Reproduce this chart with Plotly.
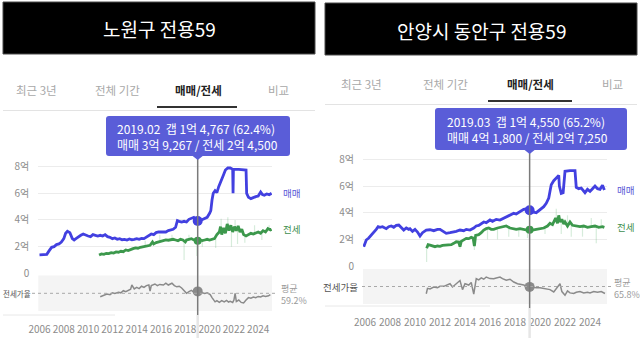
import plotly.graph_objects as go

W, H = 640, 338


def fx(px):
    return px / W


def fy(py):
    return 1 - py / H


# ---------------- data ----------------
year_ticks = [2006, 2008, 2010, 2012, 2014, 2016, 2018, 2020, 2022, 2024]
price_ticks = [0, 2, 4, 6, 8]
price_tick_text = ["0", "2억", "4억", "6억", "8억"]

tabs = ["최근 3년", "전체 기간", "매매/전세", "비교"]

# 노원구 전용59 : 매매 (억)
nowon_sale_t = [2006.0, 2006.3, 2006.6, 2006.8, 2007.0, 2007.2, 2007.4, 2007.6, 2007.8, 2008.0,
                2008.15, 2008.3, 2008.5, 2008.7, 2008.85, 2009.0, 2009.2, 2009.4, 2009.6, 2009.8,
                2010.0, 2010.2, 2010.4, 2010.6, 2010.8, 2011.0, 2011.2, 2011.4, 2011.6, 2011.8,
                2012.0, 2012.2, 2012.4, 2012.6, 2012.8, 2013.0, 2013.2, 2013.4, 2013.6, 2013.8,
                2014.0, 2014.2, 2014.4, 2014.6, 2014.8, 2015.0, 2015.2, 2015.4, 2015.6, 2015.8,
                2016.0, 2016.2, 2016.4, 2016.6, 2016.8, 2017.0, 2017.2, 2017.35, 2017.5, 2017.7,
                2017.9, 2018.1, 2018.3, 2018.5, 2018.7, 2018.9, 2019.02, 2019.2, 2019.4, 2019.6,
                2019.8, 2020.0, 2020.1, 2020.2, 2020.3, 2020.45, 2020.6, 2020.75, 2020.9, 2021.0,
                2021.15, 2021.3, 2021.5, 2021.7, 2021.9, 2021.93, 2021.96, 2022.4, 2022.8, 2023.0,
                2023.05, 2023.2, 2023.4, 2023.6, 2023.8, 2024.0, 2024.2, 2024.35, 2024.5, 2024.7,
                2024.9, 2025.1]
nowon_sale = [1.38, 1.40, 1.42, 1.70, 1.95, 2.00, 2.15, 2.20, 2.35, 2.60,
              3.00, 3.15, 3.05, 2.60, 2.50, 2.60, 2.75, 2.85, 2.95, 2.85,
              2.80, 2.75, 2.90, 2.85, 2.80, 2.85, 2.80, 2.90, 2.75, 2.70,
              2.60, 2.65, 2.55, 2.60, 2.52, 2.55, 2.50, 2.58, 2.52, 2.55,
              2.60, 2.55, 2.62, 2.60, 2.70, 2.80, 2.95, 2.90, 3.05, 3.10,
              3.10, 3.15, 3.10, 3.20, 3.25, 3.30, 3.45, 3.95, 3.90, 3.85,
              3.90, 3.85, 4.05, 4.15, 4.20, 4.00, 3.9267, 3.95, 4.05, 4.10,
              4.20, 4.50, 4.70, 5.50, 6.00, 6.20, 6.05, 6.50, 6.80, 7.10,
              7.40, 7.75, 7.90, 7.90, 7.80, 6.00, 7.80, 7.80, 7.80, 7.75,
              6.00, 5.70, 5.60, 5.70, 5.75, 5.80, 6.10, 5.90, 5.85, 5.95,
              5.90, 6.00]

# 노원구 전용59 : 전세 (억)
nowon_jeonse_t = [2010.9, 2011.1, 2011.3, 2011.5, 2011.7, 2011.9, 2012.1, 2012.3, 2012.5, 2012.7,
                  2012.9, 2013.1, 2013.3, 2013.5, 2013.7, 2013.9, 2014.1, 2014.3, 2014.5, 2014.7,
                  2014.9, 2015.1, 2015.3, 2015.4, 2015.6, 2015.8, 2016.0, 2016.2, 2016.4, 2016.6,
                  2016.8, 2017.0, 2017.2, 2017.4, 2017.6, 2017.8, 2018.0, 2018.1, 2018.3, 2018.5,
                  2018.7, 2018.9, 2019.02, 2019.2, 2019.4, 2019.6, 2019.8, 2020.0, 2020.2, 2020.4,
                  2020.6, 2020.8, 2020.9, 2021.0, 2021.15, 2021.3, 2021.45, 2021.6, 2021.75, 2021.9,
                  2022.05, 2022.2, 2022.35, 2022.5, 2022.65, 2022.8, 2023.0, 2023.2, 2023.4, 2023.6,
                  2023.8, 2024.0, 2024.2, 2024.4, 2024.6, 2024.8, 2025.0, 2025.1]
nowon_jeonse = [1.37, 1.45, 1.42, 1.50, 1.48, 1.55, 1.52, 1.60, 1.58, 1.65,
                1.62, 1.75, 1.70, 1.80, 1.85, 1.90, 1.88, 1.95, 2.00, 2.05,
                2.10, 2.10, 2.35, 2.20, 2.30, 2.35, 2.40, 2.45, 2.50, 2.48,
                2.50, 2.55, 2.50, 2.45, 2.55, 2.50, 2.35, 2.50, 2.55, 2.60,
                2.50, 2.45, 2.45, 2.50, 2.45, 2.50, 2.55, 2.50, 2.55, 2.60,
                2.90, 3.10, 3.50, 2.90, 3.40, 3.00, 3.70, 3.20, 3.60, 3.10,
                3.50, 3.20, 3.55, 3.10, 3.30, 2.90, 2.80, 2.90, 3.00, 2.95,
                3.05, 3.10, 3.00, 3.20, 3.10, 3.35, 3.25, 3.30]

# 노원구 전용59 : 개별 전세 거래 (연도, 평균선 값, 거래 값)
nowon_trade_t = [2014.7, 2015.9, 2016.9, 2017.9, 2018.3, 2018.95, 2019.4, 2020.5, 2020.95,
                 2021.5, 2021.8, 2022.1, 2022.3, 2022.9, 2023.7, 2024.3, 2024.9]
nowon_trade_base = [2.05, 2.35, 2.50, 2.50, 2.55, 2.45, 2.45, 2.75, 3.30,
                    3.50, 3.40, 3.45, 3.40, 2.85, 3.00, 3.05, 3.30]
nowon_trade_tip = [2.45, 2.90, 2.90, 1.00, 2.90, 1.30, 2.00, 1.90, 4.10,
                   4.20, 2.00, 4.00, 2.20, 2.30, 3.60, 2.50, 3.60]

# 노원구 전용59 : 전세가율 (%)
nowon_ratio_t = [2011.0, 2011.3, 2011.55, 2011.8, 2012.0, 2012.2, 2012.5, 2012.7, 2012.9, 2013.1,
                 2013.3, 2013.5, 2013.6, 2013.8, 2014.0, 2014.2, 2014.4, 2014.6, 2014.8, 2015.0,
                 2015.1, 2015.2, 2015.5, 2015.7, 2015.9, 2016.2, 2016.4, 2016.6, 2016.9, 2017.1,
                 2017.3, 2017.5, 2017.7, 2017.9, 2018.1, 2018.3, 2018.5, 2018.7, 2018.9, 2019.02,
                 2019.2, 2019.4, 2019.6, 2019.8, 2020.05, 2020.2, 2020.45, 2020.6, 2020.8, 2021.0,
                 2021.2, 2021.4, 2021.55, 2021.7, 2021.9, 2022.0, 2022.1, 2022.2, 2022.4, 2022.6,
                 2022.8, 2023.0, 2023.2, 2023.4, 2023.6, 2023.8, 2024.0, 2024.2, 2024.4, 2024.6,
                 2024.85, 2025.0]
nowon_ratio = [53.5, 56, 58, 57, 60, 59, 61, 60, 63.5, 62,
               64, 66, 73, 66.5, 69, 67, 71, 69, 72, 73,
               63, 72, 74.7, 72, 74, 73, 76, 73, 76, 72,
               70, 71, 68, 64, 59.2, 62, 64, 61, 63, 62.4,
               61, 60, 59, 60, 57, 52, 45, 47, 44, 47,
               45, 47.5, 44.7, 46, 44, 48, 59, 45.5, 48, 44,
               43, 48, 52, 51, 53, 52, 54, 53, 55, 54,
               55, 57]
nowon_ratio_avg = 59.2

# 노원구 : 선택 시점
nowon_cursor_label = "2019.02"
nowon_cursor_t = 2019.02
nowon_cursor_sale = 39267      # 만원
nowon_cursor_jeonse = 24500    # 만원

# 안양시 동안구 전용59 : 매매 (억)
anyang_sale_t = [2005.9, 2006.1, 2006.3, 2006.5, 2006.7, 2006.9, 2007.05, 2007.2, 2007.4, 2007.55,
                 2007.7, 2007.9, 2008.1, 2008.3, 2008.5, 2008.7, 2008.9, 2009.1, 2009.3, 2009.5,
                 2009.6, 2009.8, 2010.0, 2010.2, 2010.4, 2010.6, 2010.9, 2011.2, 2011.5, 2011.8,
                 2012.0, 2012.3, 2012.5, 2012.8, 2013.1, 2013.3, 2013.6, 2013.9, 2014.1, 2014.4,
                 2014.7, 2014.9, 2015.1, 2015.3, 2015.5, 2015.7, 2016.0, 2016.2, 2016.5, 2016.8,
                 2017.0, 2017.3, 2017.6, 2017.9, 2018.1, 2018.4, 2018.7, 2018.95, 2019.17, 2019.4,
                 2019.7, 2019.9, 2020.1, 2020.3, 2020.5, 2020.7, 2020.8, 2020.9, 2021.1, 2021.3,
                 2021.5, 2021.55, 2021.7, 2021.85, 2021.95, 2022.0, 2022.4, 2022.8, 2022.9, 2023.1,
                 2023.3, 2023.6, 2023.8, 2024.0, 2024.2, 2024.4, 2024.6, 2024.8, 2025.0, 2025.15]
anyang_sale = [1.45, 1.95, 2.10, 2.30, 2.55, 2.75, 2.95, 2.90, 2.95, 2.85,
               2.80, 2.95, 3.00, 2.90, 3.05, 3.07, 2.90, 2.70, 2.85, 2.75,
               2.80, 2.60, 2.75, 2.55, 2.25, 2.50, 2.70, 2.72, 2.65, 2.75,
               2.75, 2.60, 2.45, 2.50, 2.55, 2.60, 2.70, 2.65, 2.75, 2.70,
               2.85, 3.00, 3.05, 3.20, 3.30, 3.25, 3.45, 3.35, 3.50, 3.45,
               3.55, 3.70, 3.80, 3.95, 3.90, 4.05, 4.25, 4.30, 4.18, 4.05,
               4.00, 4.15, 4.30, 4.45, 4.70, 5.10, 5.60, 6.10, 6.40, 6.60,
               6.80, 6.00, 5.45, 5.50, 6.90, 7.10, 7.15, 7.15, 5.90, 5.80,
               5.85, 5.50, 5.75, 5.60, 5.80, 6.00, 5.80, 5.75, 6.05, 5.70]

# 안양시 동안구 전용59 : 전세 (억)
anyang_jeonse_t = [2010.93, 2011.05, 2011.2, 2011.4, 2011.6, 2011.8, 2012.0, 2012.2, 2012.5, 2012.7,
                   2012.9, 2013.1, 2013.3, 2013.5, 2013.6, 2013.7, 2013.9, 2014.1, 2014.3, 2014.5,
                   2014.65, 2014.75, 2014.85, 2015.1, 2015.3, 2015.5, 2015.7, 2015.9, 2016.1, 2016.3,
                   2016.6, 2016.9, 2017.1, 2017.3, 2017.6, 2017.9, 2018.1, 2018.4, 2018.7, 2018.95,
                   2019.17, 2019.4, 2019.7, 2020.0, 2020.3, 2020.6, 2020.8, 2021.0, 2021.1, 2021.25,
                   2021.4, 2021.5, 2021.6, 2021.75, 2021.9, 2022.0, 2022.2, 2022.4, 2022.6, 2022.9,
                   2023.2, 2023.5, 2023.8, 2024.1, 2024.4, 2024.7, 2025.0, 2025.15]
anyang_jeonse = [1.33, 1.60, 1.57, 1.50, 1.45, 1.50, 1.48, 1.55, 1.57, 1.62,
                 1.60, 1.70, 1.82, 1.80, 1.45, 1.85, 1.95, 2.07, 2.05, 2.15,
                 2.10, 1.50, 2.30, 2.35, 2.50, 2.70, 2.80, 2.85, 2.75, 2.75,
                 2.85, 2.90, 2.95, 3.00, 2.85, 2.80, 2.75, 2.80, 2.75, 2.70,
                 2.725, 2.70, 2.75, 2.80, 2.85, 3.00, 3.20, 3.10, 3.30, 3.60,
                 3.20, 3.80, 3.30, 3.50, 3.15, 3.30, 3.00, 3.30, 3.05, 3.00,
                 2.95, 3.00, 2.90, 2.95, 3.00, 2.90, 2.95, 2.90]

# 안양시 동안구 전용59 : 개별 전세 거래 (연도, 평균선 값, 거래 값)
anyang_trade_t = [2010.93, 2013.6, 2014.75, 2015.8, 2016.6, 2017.5, 2018.3, 2019.0, 2020.4,
                  2021.3, 2021.7, 2022.2, 2022.5, 2023.4, 2024.1, 2024.5, 2024.9]
anyang_trade_base = [1.33, 1.80, 2.10, 2.80, 2.85, 2.90, 2.80, 2.70, 2.90,
                     3.40, 3.40, 3.00, 3.20, 3.00, 2.95, 3.00, 2.95]
anyang_trade_tip = [0.30, 1.30, 1.20, 2.00, 2.00, 2.20, 2.20, 2.10, 2.40,
                    4.30, 2.40, 3.80, 2.20, 2.20, 3.60, 1.70, 3.50]

# 안양시 동안구 전용59 : 전세가율 (%)
anyang_ratio_t = [2010.9, 2011.0, 2011.2, 2011.5, 2011.8, 2012.0, 2012.3, 2012.5, 2012.8, 2013.0,
                  2013.3, 2013.6, 2013.8, 2014.0, 2014.3, 2014.5, 2014.7, 2014.9, 2015.1, 2015.3,
                  2015.5, 2015.7, 2016.0, 2016.3, 2016.5, 2016.8, 2017.0, 2017.3, 2017.6, 2017.9,
                  2018.2, 2018.5, 2018.7, 2018.95, 2019.17, 2019.4, 2019.7, 2020.0, 2020.2, 2020.5,
                  2020.8, 2021.1, 2021.3, 2021.5, 2021.6, 2021.75, 2022.0, 2022.2, 2022.4, 2022.7,
                  2022.9, 2023.2, 2023.5, 2023.8, 2024.0, 2024.3, 2024.6, 2024.9, 2025.2]
anyang_ratio = [54.7, 63, 62, 65, 64, 66, 66, 68, 70, 65,
                70, 75, 61, 70, 68, 72, 54, 77.8, 76, 79,
                77, 80.4, 78, 77.8, 79, 80.4, 78, 75.5, 77, 72.7,
                70, 69, 68, 66, 65.2, 65, 64, 64, 63, 62.5,
                61, 57.4, 63, 67, 70, 58, 52.3, 59, 56, 55,
                57, 58, 56, 57, 56, 58, 57, 58, 55]
anyang_ratio_avg = 65.8

# 안양시 동안구 : 선택 시점
anyang_cursor_label = "2019.03"
anyang_cursor_t = 2019.17
anyang_cursor_sale = 41800     # 만원
anyang_cursor_jeonse = 27250   # 만원

# ---------------- styles ----------------
FONT = "Noto Sans CJK KR"
BLUE = "#4240e0"
GREEN = "#3c984c"
GREY = "#8a8a8a"
TIP_BG = "#5a5dd8"


def won(manwon):
    """Format an amount in 만원 as 'N억 M,MMM'."""
    eok, rest = divmod(int(round(manwon)), 10000)
    parts = []
    if eok:
        parts.append(f"{eok}억")
    if rest:
        parts.append(f"{rest:,}")
    return " ".join(parts)


fig = go.Figure()
shapes = []
annotations = []

panels = [
    dict(title="노원구 전용59", box=(3, 2, 315, 54), title_y=29,
         tab_y=90, tab_x=[36, 117, 198, 278], ul=(157, 237, 107), sep=(3, 315, 110.5),
         x0=38.3, x1=272, yr_px=39.5, px_yr=12.15, top=154, zero=273.3, per=13.33,
         r_top=275.5, r_bot=311, r_avg_px=293.3, r_ppp=0.6,
         tip=(106, 116, 290, 156), tip_tx=115,
         ratio_lbl=(1, "left", 7.5), side_x=281, avg_x=279, dot_x=(32, 277), foot=(3, 115, 315),
         sale_t=nowon_sale_t, sale=nowon_sale, js_t=nowon_jeonse_t, js=nowon_jeonse,
         tr_t=nowon_trade_t, tr_b=nowon_trade_base, tr_v=nowon_trade_tip,
         r_t=nowon_ratio_t, r=nowon_ratio, avg=nowon_ratio_avg,
         c_lbl=nowon_cursor_label, c_t=nowon_cursor_t,
         c_sale=nowon_cursor_sale, c_js=nowon_cursor_jeonse),
    dict(title="안양시 동안구 전용59", box=(325, 3, 637, 55), title_y=30,
         tab_y=83.5, tab_x=[361, 445, 530, 612], ul=(488, 572, 101), sep=(325, 637, 104.5),
         x0=363, x1=607, yr_px=365, px_yr=12.5, top=151, zero=266, per=13.33,
         r_top=269, r_bot=304, r_avg_px=286.5, r_ppp=0.65,
         tip=(435, 108, 627, 150), tip_tx=445,
         ratio_lbl=(360, "right", 9.5), side_x=615, avg_x=612, dot_x=(362, 611),
         foot=(325, 490, 306),
         sale_t=anyang_sale_t, sale=anyang_sale, js_t=anyang_jeonse_t, js=anyang_jeonse,
         tr_t=anyang_trade_t, tr_b=anyang_trade_base, tr_v=anyang_trade_tip,
         r_t=anyang_ratio_t, r=anyang_ratio, avg=anyang_ratio_avg,
         c_lbl=anyang_cursor_label, c_t=anyang_cursor_t,
         c_sale=anyang_cursor_sale, c_js=anyang_cursor_jeonse),
]

layout_axes = {}

for i, p in enumerate(panels):
    mx = "x" if i == 0 else "x3"
    my = "y" if i == 0 else "y3"
    rx = "x2" if i == 0 else "x4"
    ry = "y2" if i == 0 else "y4"
    mxk = "xaxis" if i == 0 else "xaxis3"
    myk = "yaxis" if i == 0 else "yaxis3"
    rxk = "xaxis2" if i == 0 else "xaxis4"
    ryk = "yaxis2" if i == 0 else "yaxis4"

    yr_lo = 2006 + (p["x0"] - p["yr_px"]) / p["px_yr"]
    yr_hi = 2006 + (p["x1"] - p["yr_px"]) / p["px_yr"]
    y_hi = (p["zero"] - p["top"]) / p["per"]
    r_hi = p["avg"] + (p["r_avg_px"] - p["r_top"]) / p["r_ppp"]
    r_lo = p["avg"] - (p["r_bot"] - p["r_avg_px"]) / p["r_ppp"]

    xdom = [fx(p["x0"]), fx(p["x1"])]
    layout_axes[mxk] = dict(domain=xdom, range=[yr_lo, yr_hi], anchor=my, visible=False,
                            automargin=False)
    layout_axes[myk] = dict(domain=[fy(p["zero"]), fy(p["top"])], range=[0, y_hi], anchor=mx,
                            tickvals=price_ticks, ticktext=price_tick_text,
                            showgrid=True, gridcolor="#ececec", gridwidth=1,
                            zeroline=False, showline=False, automargin=False,
                            ticks="outside", ticklen=6, tickcolor="rgba(0,0,0,0)",
                            tickfont=dict(family=FONT, size=10, color="#8c8c8c"))
    layout_axes[rxk] = dict(domain=xdom, range=[yr_lo, yr_hi], anchor=ry,
                            tickvals=year_ticks, ticktext=[str(v) for v in year_ticks],
                            showgrid=False, zeroline=False, showline=False,
                            automargin=False, tickangle=0,
                            ticks="outside", ticklen=9, tickcolor="rgba(0,0,0,0)",
                            tickfont=dict(family=FONT, size=10, color="#8c8c8c"))
    layout_axes[ryk] = dict(domain=[fy(p["r_bot"]), fy(p["r_top"])], range=[r_lo, r_hi],
                            anchor=rx, visible=False, automargin=False)

    # title box
    bx0, by0, bx1, by1 = p["box"]
    shapes.append(dict(type="rect", xref="paper", yref="paper",
                       x0=fx(bx0), x1=fx(bx1), y0=fy(by1), y1=fy(by0),
                       fillcolor="#000000", line=dict(color="#4a4a4a", width=1)))
    annotations.append(dict(text=p["title"], xref="paper", yref="paper",
                            x=fx((bx0 + bx1) / 2), y=fy(p["title_y"]), showarrow=False,
                            xanchor="center", yanchor="middle",
                            font=dict(family=FONT, size=19, color="#ffffff")))

    # tabs
    for tab, tx in zip(tabs, p["tab_x"]):
        sel = tab == "매매/전세"
        annotations.append(dict(text=f"<b>{tab}</b>" if sel else tab, xref="paper", yref="paper",
                                x=fx(tx), y=fy(p["tab_y"]), showarrow=False,
                                xanchor="center", yanchor="middle",
                                font=dict(family=FONT, size=11.5,
                                          color="#222222" if sel else "#a8a8a8")))
    sx0, sx1, sy = p["sep"]
    shapes.append(dict(type="line", xref="paper", yref="paper", x0=fx(sx0), x1=fx(sx1),
                       y0=fy(sy), y1=fy(sy), line=dict(color="#e3e3e3", width=1)))
    ux0, ux1, uy = p["ul"]
    shapes.append(dict(type="line", xref="paper", yref="paper", x0=fx(ux0), x1=fx(ux1),
                       y0=fy(uy), y1=fy(uy), line=dict(color="#333333", width=2)))

    # ratio band background
    shapes.append(dict(type="rect", xref=f"{rx} domain", yref=f"{ry} domain",
                       x0=0, x1=1, y0=0, y1=1, fillcolor="#f4f4f4",
                       line=dict(width=0), layer="below"))
    # average dotted line
    shapes.append(dict(type="line", xref="paper", yref=ry,
                       x0=fx(p["dot_x"][0]), x1=fx(p["dot_x"][1]), y0=p["avg"], y1=p["avg"],
                       line=dict(color="#a8a8a8", width=1, dash="dot")))
    # faint footer rule
    fx0, fx1, fyy = p["foot"]
    shapes.append(dict(type="line", xref="paper", yref="paper", x0=fx(fx0), x1=fx(fx1),
                       y0=fy(fyy), y1=fy(fyy), line=dict(color="#e8e8e8", width=1)))

    # cursor line
    tx0, ty0, tx1, ty1 = p["tip"]
    shapes.append(dict(type="line", xref=mx, yref="paper", x0=p["c_t"], x1=p["c_t"],
                       y0=fy(p["r_bot"] + 4), y1=fy(ty1), line=dict(color="#7a7a7a", width=1.5)))
    shapes.append(dict(type="line", xref=mx, yref="paper", x0=p["c_t"], x1=p["c_t"],
                       y0=0, y1=fy(p["r_bot"] + 4), line=dict(color="#e6e6e6", width=2.5)))

    # tooltip box with small pointer
    cxp = p["x0"] + (p["c_t"] - yr_lo) * p["px_yr"]
    r = 3
    path = (f"M {fx(tx0 + r)} {fy(ty0)} L {fx(tx1 - r)} {fy(ty0)} "
            f"Q {fx(tx1)} {fy(ty0)} {fx(tx1)} {fy(ty0 + r)} "
            f"L {fx(tx1)} {fy(ty1 - r)} Q {fx(tx1)} {fy(ty1)} {fx(tx1 - r)} {fy(ty1)} "
            f"L {fx(cxp + 5)} {fy(ty1)} L {fx(cxp)} {fy(ty1 + 4)} L {fx(cxp - 5)} {fy(ty1)} "
            f"L {fx(tx0 + r)} {fy(ty1)} Q {fx(tx0)} {fy(ty1)} {fx(tx0)} {fy(ty1 - r)} "
            f"L {fx(tx0)} {fy(ty0 + r)} Q {fx(tx0)} {fy(ty0)} {fx(tx0 + r)} {fy(ty0)} Z")
    shapes.append(dict(type="path", xref="paper", yref="paper", path=path,
                       fillcolor=TIP_BG, line=dict(width=0)))
    gap = p["c_sale"] - p["c_js"]
    pct = p["c_js"] / p["c_sale"] * 100
    line1 = f"{p['c_lbl']}\u00a0\u00a0갭 {won(gap)} ({pct:.1f}%)"
    line2 = f"매매 {won(p['c_sale'])} / 전세 {won(p['c_js'])}"
    annotations.append(dict(text=f"{line1}<br>{line2}", xref="paper", yref="paper",
                            x=fx(p["tip_tx"]), y=fy((ty0 + ty1) / 2), showarrow=False,
                            xanchor="left", yanchor="middle", align="left",
                            font=dict(family=FONT, size=12, color="#ffffff")))

    # individual jeonse trades (faint)
    tx, ty = [], []
    for t, b, v in zip(p["tr_t"], p["tr_b"], p["tr_v"]):
        tx += [t, t, None]
        ty += [b, v, None]
    fig.add_trace(go.Scatter(x=tx, y=ty, xaxis=mx, yaxis=my, mode="lines",
                             line=dict(color="rgba(70,170,90,0.22)", width=1.2),
                             hoverinfo="skip"))
    # jeonse and sale lines
    fig.add_trace(go.Scatter(x=p["js_t"], y=p["js"], xaxis=mx, yaxis=my, mode="lines",
                             line=dict(color=GREEN, width=2.8), hoverinfo="skip"))
    fig.add_trace(go.Scatter(x=p["sale_t"], y=p["sale"], xaxis=mx, yaxis=my, mode="lines",
                             line=dict(color=BLUE, width=2.8), hoverinfo="skip"))
    # cursor dots
    fig.add_trace(go.Scatter(x=[p["c_t"]], y=[p["c_js"] / 10000], xaxis=mx, yaxis=my,
                             mode="markers", marker=dict(color=GREEN, size=8),
                             hoverinfo="skip"))
    fig.add_trace(go.Scatter(x=[p["c_t"]], y=[p["c_sale"] / 10000], xaxis=mx, yaxis=my,
                             mode="markers", marker=dict(color=BLUE, size=10),
                             hoverinfo="skip"))
    # ratio line and dot
    fig.add_trace(go.Scatter(x=p["r_t"], y=p["r"], xaxis=rx, yaxis=ry, mode="lines",
                             line=dict(color=GREY, width=1.5), hoverinfo="skip"))
    fig.add_trace(go.Scatter(x=[p["c_t"]], y=[pct], xaxis=rx, yaxis=ry, mode="markers",
                             marker=dict(color="#8a8a8a", size=10), hoverinfo="skip"))

    # series end labels
    annotations.append(dict(text="매매", xref="paper", yref=my, x=fx(p["side_x"]),
                            y=p["sale"][-1], showarrow=False, xanchor="left", yanchor="middle",
                            font=dict(family=FONT, size=9.5, color="#5a58d6")))
    annotations.append(dict(text="전세", xref="paper", yref=my, x=fx(p["side_x"]),
                            y=p["js"][-1], showarrow=False, xanchor="left", yanchor="middle",
                            font=dict(family=FONT, size=9.5, color="#3f8f4f")))
    annotations.append(dict(text=f"평균<br>{p['avg']:.1f}%", xref="paper", yref="paper",
                            x=fx(p["avg_x"]), y=fy(p["r_avg_px"] + 1.5), showarrow=False,
                            xanchor="left", yanchor="middle", align="left",
                            font=dict(family=FONT, size=9, color="#9a9a9a")))
    lx, lanchor, lsize = p["ratio_lbl"]
    annotations.append(dict(text="전세가율", xref="paper", yref=ry, x=fx(lx),
                            y=p["avg"], showarrow=False, xanchor=lanchor, yanchor="middle",
                            font=dict(family=FONT, size=lsize, color="#555555")))

fig.update_layout(
    width=W, height=H,
    margin=dict(l=0, r=0, t=0, b=0, autoexpand=False),
    paper_bgcolor="#ffffff", plot_bgcolor="#ffffff",
    showlegend=False,
    shapes=shapes, annotations=annotations,
    **layout_axes,
)

fig.write_html("out.html")
